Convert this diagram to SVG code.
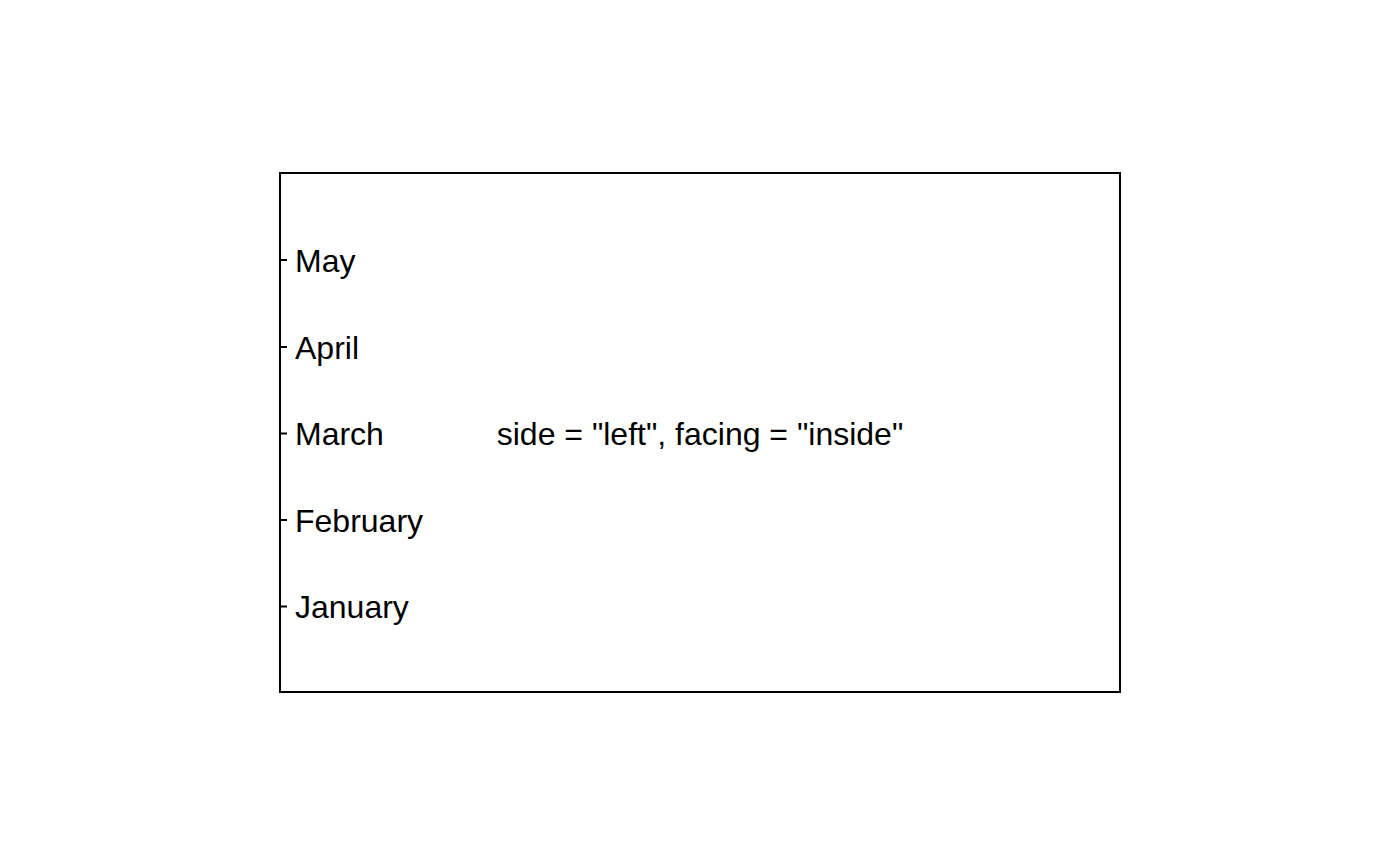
<svg xmlns="http://www.w3.org/2000/svg" width="1400" height="866" viewBox="0 0 1400 866">
<style>
text{font-family:"Liberation Sans",Arial,sans-serif;font-size:32px;fill:#000}
.ax{stroke:#000;stroke-width:2;fill:none}
</style>
<rect width="1400" height="866" fill="#fff"/>
<g id="panel"><rect class="ax" x="280" y="173" width="840" height="519"/></g>
<g id="ticks">
<path class="ax" d="M280 260H287M280 347H287M280 433.5H287M280 520H287M280 606.5H287" stroke-width="1.5"/>
</g>
<g id="labels">
<text x="295" y="271.5">May</text>
<text x="295" y="358.5">April</text>
<text x="295" y="445">March</text>
<text x="295" y="531.5">February</text>
<text x="295" y="618">January</text>
</g>
<g id="title"><text x="700" y="445" text-anchor="middle">side = "left", facing = "inside"</text></g>
</svg>
